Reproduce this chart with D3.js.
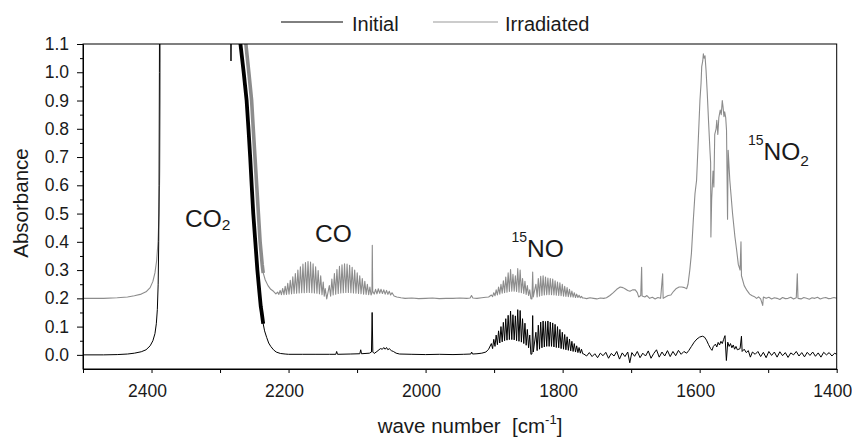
<!DOCTYPE html>
<html>
<head>
<meta charset="utf-8">
<script src="https://cdn.jsdelivr.net/npm/d3@7"></script>
<style>
  body { margin: 0; background: #fff; }
  svg text { font-family: "Liberation Sans", Arial, sans-serif; fill: #1a1a1a; }
</style>
</head>
<body>
<svg id="chart"></svg>
<script>
const width = 852;
const height = 438;
const margin = { top: 44, right: 15.3, bottom: 69, left: 83 };

const seriesNames = ['Initial', 'Irradiated'];
const xMajorTicks = [2400, 2200, 2000, 1800, 1600, 1400];
const xMinorTicks = [2500, 2300, 2100, 1900, 1700, 1500];
const yMajorTicks = [0.0, 0.1, 0.2, 0.3, 0.4, 0.5, 0.6, 0.7, 0.8, 0.9, 1.0, 1.1];
const yMinorTicks = [0.05, 0.15, 0.25, 0.35, 0.45, 0.55, 0.65, 0.75, 0.85, 0.95, 1.05];

// ---- Initial (black) : [wave number, absorbance]
const blackCO2 = [
  [2500, 0.0], [2470, 0.0], [2450, 0.001], [2435, 0.003], [2425, 0.006], [2415, 0.011],
  [2408, 0.018], [2402, 0.032], [2398, 0.05], [2395, 0.075], [2393, 0.11], [2391.5, 0.16],
  [2390.3, 0.25], [2389.5, 0.4], [2389, 0.6], [2388.5, 1.0], [2388.2, 1.3], [2386, 1.6],
  [2287, 1.6], [2284.6, 1.2], [2284, 1.04], [2283.4, 1.2], [2281, 1.6], [2274, 1.6]
];
// saturated, noisy edge of the CO2 band (drawn as a thick band)
const blackCO2Edge = [
  [2271.5, 1.15], [2270.2, 1.1], [2265.5, 1.0], [2261.2, 0.9], [2258.5, 0.8], [2256, 0.7],
  [2253.8, 0.6], [2251.5, 0.5], [2248.5, 0.4], [2245.5, 0.3], [2242.5, 0.22], [2240.5, 0.17],
  [2239.2, 0.15], [2237, 0.11]
];
const blackCO2Foot = [
  [2235, 0.085], [2232, 0.062], [2229, 0.042], [2226, 0.03], [2222, 0.018],
  [2218, 0.01], [2212, 0.005], [2205, 0.003], [2200, 0.002]
];
const blackMid = [
  [2180, 0.002], [2160, 0.002], [2140, 0.002], [2131, 0.002], [2129.8, 0.012], [2128.5, 0.002],
  [2110, 0.003], [2096, 0.004], [2094.7, 0.018], [2093.5, 0.004], [2082, 0.006], [2079, 0.01],
  [2078, 0.15], [2077, 0.01], [2075, 0.005], [2071, 0.012], [2068, 0.018], [2066, 0.022],
  [2063, 0.02], [2061, 0.026], [2059, 0.02], [2057, 0.026], [2055, 0.018], [2053, 0.022],
  [2050, 0.015], [2047, 0.012], [2043, 0.006], [2038, 0.003], [2020, 0.002], [2000, 0.001],
  [1980, 0.002], [1960, 0.001], [1945, 0.002], [1934, 0.003], [1932.8, 0.01], [1931.5, 0.003],
  [1925, 0.004], [1918, 0.006], [1912, 0.01], [1908, 0.02]
];
const blackNoSpike = [[1844.8, 0.003], [1843.7, 0.139], [1842.8, 0.01]];
const blackTail = [
  [1769, 0.003], [1765, -0.004], [1761, 0.008], [1757, -0.006], [1753, 0.004], [1749, -0.01],
  [1745, 0.006], [1741, -0.003], [1737, 0.009], [1733, -0.012], [1729, 0.005], [1725, -0.004],
  [1721, 0.012], [1717, -0.015], [1713, 0.007], [1709, -0.006], [1705, 0.01], [1702, -0.028],
  [1699, 0.008], [1695, -0.005], [1691, 0.012], [1687, -0.01], [1683, 0.006], [1679, -0.004],
  [1675, 0.014], [1671, -0.012], [1667, 0.005], [1663, 0.018], [1659, -0.008], [1655, 0.01],
  [1651, -0.004], [1647, 0.015], [1643, -0.006], [1639, 0.012], [1635, -0.003], [1631, 0.016],
  [1627, 0.002], [1623, 0.012], [1619, 0.006], [1616, 0.015], [1612, 0.03], [1608, 0.045],
  [1604, 0.056], [1600, 0.063], [1596, 0.066], [1593, 0.063], [1590, 0.052], [1587, 0.036],
  [1584, 0.022], [1582, 0.016], [1580, 0.03], [1577, 0.038], [1575, 0.028], [1573, 0.044],
  [1571, 0.035], [1569, 0.048], [1567, 0.04], [1565, 0.055], [1563, 0.068], [1561, -0.02],
  [1559, 0.045], [1557, 0.03], [1555, 0.04], [1553, 0.025], [1551, 0.035], [1549, 0.02],
  [1547, 0.03], [1545, 0.018], [1541, 0.022], [1539, 0.066], [1538, 0.012], [1535, 0.02],
  [1532, 0.008], [1529, 0.015], [1526, -0.008], [1523, 0.01], [1519, 0.002], [1515, 0.012],
  [1511, -0.006], [1507, 0.009], [1503, -0.01], [1499, 0.012], [1495, -0.002], [1491, 0.01],
  [1487, -0.008], [1483, 0.011], [1479, -0.003], [1475, 0.008], [1471, -0.009], [1467, 0.007],
  [1463, 0.0], [1459, 0.012], [1455, -0.004], [1451, 0.008], [1447, -0.007], [1443, 0.009],
  [1439, -0.002], [1435, 0.01], [1431, -0.005], [1427, 0.007], [1423, -0.008], [1419, 0.009],
  [1415, 0.0], [1411, 0.008], [1407, -0.004], [1403, 0.006], [1400, 0.002]
];

// ---- NO rotational lines (shared positions)
const no1PeakWn = [1904, 1900.5, 1897, 1893.5, 1890, 1886.5, 1883, 1879.5, 1876, 1872.5, 1869, 1865.5, 1862, 1858.5, 1855, 1851.5, 1848];
const no1ValleyWn = [1902.2, 1898.7, 1895.2, 1891.7, 1888.2, 1884.7, 1881.2, 1877.7, 1874.2, 1870.7, 1867.2, 1863.7, 1860.2, 1856.7, 1853.2, 1849.7, 1846.3];
const no2PeakWn = [1839, 1835.5, 1832, 1828.5, 1825, 1821.5, 1818, 1814.5, 1811, 1807.5, 1804, 1800.5, 1797, 1793.5, 1790, 1786.5, 1783, 1779.5, 1776, 1772.5];
const no2ValleyWn = [1837.2, 1833.7, 1830.2, 1826.7, 1823.2, 1819.7, 1816.2, 1812.7, 1809.2, 1805.7, 1802.2, 1798.7, 1795.2, 1791.7, 1788.2, 1784.7, 1781.2, 1777.7, 1774.2, 1770.7];

const blackNo1Peak = [0.04, 0.055, 0.07, 0.085, 0.1, 0.115, 0.128, 0.14, 0.155, 0.142, 0.138, 0.16, 0.157, 0.128, 0.112, 0.09, 0.07];
const blackNo1Valley = [0.022, 0.03, 0.036, 0.042, 0.046, 0.05, 0.052, 0.054, 0.054, 0.053, 0.05, 0.048, 0.045, 0.04, 0.034, 0.025, 0.002];
const blackNo2Peak = [0.08, 0.105, 0.116, 0.12, 0.118, 0.12, 0.116, 0.113, 0.108, 0.1, 0.09, 0.08, 0.072, 0.064, 0.056, 0.048, 0.04, 0.032, 0.026, 0.02];
const blackNo2Valley = [0.015, 0.02, 0.025, 0.028, 0.03, 0.03, 0.03, 0.028, 0.026, 0.025, 0.022, 0.02, 0.018, 0.016, 0.014, 0.012, 0.01, 0.008, 0.006, 0.004];

const grayNo1Peak = [0.212, 0.22, 0.23, 0.24, 0.25, 0.262, 0.275, 0.29, 0.302, 0.285, 0.28, 0.305, 0.3, 0.27, 0.26, 0.245, 0.23];
const grayNo1Valley = [0.206, 0.209, 0.212, 0.215, 0.218, 0.22, 0.222, 0.224, 0.225, 0.225, 0.224, 0.222, 0.22, 0.217, 0.214, 0.21, 0.199];
const grayNo2Peak = [0.25, 0.27, 0.278, 0.28, 0.275, 0.272, 0.27, 0.268, 0.262, 0.258, 0.255, 0.25, 0.243, 0.238, 0.232, 0.226, 0.22, 0.215, 0.211, 0.207];
const grayNo2Valley = [0.205, 0.208, 0.21, 0.212, 0.213, 0.213, 0.213, 0.212, 0.211, 0.21, 0.209, 0.208, 0.207, 0.206, 0.205, 0.204, 0.203, 0.203, 0.202, 0.201];

// ---- CO rotational lines (irradiated only)
const co1PeakWn = [2216, 2212.3, 2208.6, 2204.9, 2201.2, 2197.5, 2193.8, 2190.1, 2186.4, 2182.7, 2179, 2175.3, 2171.6, 2167.9, 2164.2, 2160.5, 2156.8, 2153.1, 2149.4, 2146.5];
const co1Peak = [0.222, 0.228, 0.235, 0.243, 0.253, 0.264, 0.276, 0.288, 0.3, 0.312, 0.321, 0.327, 0.33, 0.328, 0.322, 0.312, 0.298, 0.28, 0.258, 0.235];
const co1ValleyWn = [2214.1, 2210.4, 2206.7, 2203, 2199.3, 2195.6, 2191.9, 2188.2, 2184.5, 2180.8, 2177.1, 2173.4, 2169.7, 2166, 2162.3, 2158.6, 2154.9, 2151.2, 2147.9, 2144.3];
const co1Valley = [0.214, 0.213, 0.213, 0.214, 0.215, 0.216, 0.217, 0.218, 0.219, 0.22, 0.22, 0.221, 0.221, 0.22, 0.219, 0.218, 0.216, 0.213, 0.208, 0.198];
const co2PeakWn = [2140.5, 2136.8, 2133.1, 2129.4, 2125.7, 2122, 2118.3, 2114.6, 2110.9, 2107.2, 2103.5, 2099.8, 2096.1, 2092.4, 2088.7, 2085, 2081.3];
const co2Peak = [0.245, 0.268, 0.288, 0.302, 0.313, 0.319, 0.322, 0.321, 0.317, 0.31, 0.3, 0.29, 0.28, 0.27, 0.26, 0.25, 0.24];
const co2ValleyWn = [2138.6, 2134.9, 2131.2, 2127.5, 2123.8, 2120.1, 2116.4, 2112.7, 2109, 2105.3, 2101.6, 2097.9, 2094.2, 2090.5, 2086.8, 2083.1, 2079.6];
const co2Valley = [0.208, 0.212, 0.215, 0.217, 0.219, 0.22, 0.221, 0.221, 0.22, 0.219, 0.218, 0.217, 0.216, 0.215, 0.214, 0.213, 0.212];

// ---- Irradiated (gray) : [wave number, absorbance]
const grayCO2 = [
  [2500, 0.2], [2470, 0.2], [2450, 0.202], [2435, 0.205], [2425, 0.209], [2415, 0.215],
  [2408, 0.223], [2402, 0.238], [2398, 0.26], [2395, 0.29], [2392.5, 0.334], [2390.5, 0.4],
  [2389, 0.5], [2388, 0.65], [2387.2, 0.9], [2386.6, 1.3], [2385, 1.6], [2266, 1.6]
];
const grayCO2Edge = [
  [2263.5, 1.15], [2262.3, 1.1], [2258, 1.0], [2253.9, 0.9], [2251.5, 0.8], [2249, 0.7],
  [2246.5, 0.6], [2244, 0.5], [2241.5, 0.4], [2238.5, 0.32], [2237, 0.29]
];
const grayCO2Foot = [
  [2234, 0.265], [2230, 0.245], [2226, 0.232], [2222, 0.225], [2218.5, 0.216]
];
const grayMid = [
  [2078.3, 0.22], [2077.8, 0.388], [2077.2, 0.225], [2075, 0.215], [2073, 0.232], [2071, 0.216],
  [2069, 0.234], [2067, 0.218], [2065, 0.232], [2063, 0.217], [2061, 0.23], [2059, 0.215],
  [2057, 0.228], [2055, 0.214], [2053, 0.225], [2051, 0.212], [2049, 0.22], [2046, 0.208],
  [2042, 0.205], [2036, 0.202], [2030, 0.2], [2020, 0.201], [2010, 0.199], [2000, 0.2],
  [1990, 0.201], [1980, 0.199], [1970, 0.2], [1960, 0.2], [1950, 0.201], [1940, 0.2],
  [1935, 0.201], [1933, 0.21], [1931, 0.201], [1925, 0.2], [1918, 0.202], [1912, 0.204],
  [1908, 0.205]
];
const grayNoSpike = [[1844.8, 0.198], [1843.7, 0.293], [1842.8, 0.205]];
const grayTail = [
  [1769, 0.201], [1765, 0.199], [1760, 0.202], [1755, 0.2], [1750, 0.198], [1745, 0.201],
  [1740, 0.2], [1736, 0.202], [1731, 0.21], [1726, 0.22], [1721, 0.232], [1716, 0.24],
  [1712, 0.238], [1709, 0.234], [1705, 0.228], [1701.7, 0.225], [1698, 0.23], [1694, 0.23],
  [1691, 0.22], [1689, 0.205], [1686, 0.21], [1684.7, 0.31], [1684, 0.208], [1680, 0.205],
  [1677, 0.21], [1673, 0.2], [1669, 0.204], [1665, 0.198], [1661, 0.203], [1657, 0.2],
  [1654, 0.287], [1653.3, 0.2], [1650, 0.205], [1646, 0.21], [1642, 0.212], [1638, 0.225],
  [1634, 0.235], [1630, 0.24], [1626, 0.24], [1622, 0.238], [1619, 0.234], [1617, 0.25],
  [1614.4, 0.3], [1612, 0.36], [1609.3, 0.476], [1606.8, 0.571], [1604.5, 0.618], [1602, 0.76],
  [1599.6, 0.9], [1598, 0.96], [1597, 1.02], [1595.5, 1.04], [1594.6, 1.065], [1593.5, 1.05],
  [1592.2, 1.058], [1590.7, 1.008], [1588.9, 0.925], [1586.9, 0.82], [1585, 0.724], [1584, 0.68],
  [1583.6, 0.417], [1582.5, 0.55], [1580.5, 0.65], [1579.3, 0.594], [1578, 0.78], [1576, 0.8],
  [1575, 0.83], [1573.5, 0.78], [1572, 0.84], [1570, 0.866], [1568.5, 0.85], [1567, 0.9],
  [1566, 0.88], [1564.5, 0.843], [1563.5, 0.86], [1562, 0.84], [1560.8, 0.795], [1559.3, 0.48],
  [1558.4, 0.724], [1556, 0.618], [1552, 0.5], [1548.5, 0.417], [1546, 0.37], [1543.6, 0.32],
  [1541, 0.3], [1539.7, 0.4], [1539, 0.28], [1535, 0.245], [1531, 0.228], [1527, 0.215],
  [1524, 0.21], [1520, 0.206], [1517, 0.2], [1514, 0.205], [1511, 0.198], [1508, 0.175],
  [1507, 0.205], [1503, 0.2], [1499, 0.204], [1495, 0.198], [1491, 0.202], [1487, 0.2],
  [1483, 0.196], [1479, 0.203], [1475, 0.199], [1471, 0.2], [1467, 0.204], [1463, 0.198],
  [1459, 0.202], [1457.5, 0.287], [1456.5, 0.2], [1452, 0.198], [1448, 0.203], [1444, 0.2],
  [1440, 0.197], [1436, 0.202], [1432, 0.2], [1428, 0.204], [1424, 0.198], [1420, 0.201],
  [1416, 0.203], [1412, 0.199], [1408, 0.2], [1404, 0.203], [1400, 0.2]
];

function interleave(peakWn, peakA, valleyWn, valleyA) {
  const out = [];
  peakWn.forEach((w, i) => {
    out.push([w, peakA[i]]);
    out.push([valleyWn[i], valleyA[i]]);
  });
  return out;
}

const initialData = [].concat(
  blackCO2, blackCO2Edge, blackCO2Foot, blackMid,
  interleave(no1PeakWn, blackNo1Peak, no1ValleyWn, blackNo1Valley),
  blackNoSpike,
  interleave(no2PeakWn, blackNo2Peak, no2ValleyWn, blackNo2Valley),
  blackTail
);
const irradiatedData = [].concat(
  grayCO2, grayCO2Edge, grayCO2Foot,
  interleave(co1PeakWn, co1Peak, co1ValleyWn, co1Valley),
  interleave(co2PeakWn, co2Peak, co2ValleyWn, co2Valley),
  grayMid,
  interleave(no1PeakWn, grayNo1Peak, no1ValleyWn, grayNo1Valley),
  grayNoSpike,
  interleave(no2PeakWn, grayNo2Peak, no2ValleyWn, grayNo2Valley),
  grayTail
);

const colors = { Initial: '#000000', Irradiated: '#8c8c8c' };

const svg = d3.select('#chart').attr('width', width).attr('height', height);

const x = d3.scaleLinear().domain([2500, 1400]).range([margin.left, width - margin.right]);
const y = d3.scaleLinear().domain([-0.05, 1.1]).range([height - margin.bottom, margin.top]);

svg.append('clipPath').attr('id', 'plot-clip')
  .append('rect')
  .attr('x', margin.left).attr('y', margin.top)
  .attr('width', width - margin.left - margin.right)
  .attr('height', height - margin.top - margin.bottom);

const line = d3.line().x((d) => x(d[0])).y((d) => y(d[1]));

const traces = svg.append('g').attr('clip-path', 'url(#plot-clip)')
  .attr('fill', 'none').attr('stroke-linejoin', 'round');
traces.append('path').datum(irradiatedData).attr('d', line)
  .attr('stroke', colors.Irradiated).attr('stroke-width', 1.1);
// noisy saturated edge looks like a thick band
traces.append('path').datum(grayCO2Edge).attr('d', line)
  .attr('stroke', colors.Irradiated).attr('stroke-width', 3.6);
traces.append('path').datum(initialData).attr('d', line)
  .attr('stroke', colors.Initial).attr('stroke-width', 1);
traces.append('path').datum(blackCO2Edge).attr('d', line)
  .attr('stroke', colors.Initial).attr('stroke-width', 3.8);

// frame
svg.append('rect')
  .attr('x', margin.left).attr('y', margin.top)
  .attr('width', width - margin.left - margin.right)
  .attr('height', height - margin.top - margin.bottom)
  .attr('fill', 'none').attr('stroke', '#000').attr('stroke-width', 1);

// x axis
const xAxis = svg.append('g')
  .attr('transform', `translate(0,${height - margin.bottom})`)
  .call(d3.axisBottom(x).tickValues(xMajorTicks.concat(xMinorTicks)).tickSize(4).tickSizeOuter(0).tickPadding(12)
    .tickFormat((d) => (xMajorTicks.includes(d) ? d : '')));
xAxis.selectAll('text').attr('font-size', 17.5).attr('dx', -4.5).attr('fill', '#1a1a1a');

// y axis
const yAxis = svg.append('g')
  .attr('transform', `translate(${margin.left},0)`)
  .call(d3.axisLeft(y).tickValues(yMajorTicks).tickSize(6).tickSizeOuter(0).tickPadding(8).tickFormat(d3.format('.1f')));
yAxis.selectAll('text').attr('font-size', 17.5).attr('fill', '#1a1a1a');
svg.append('g')
  .attr('transform', `translate(${margin.left},0)`)
  .call(d3.axisLeft(y).tickValues(yMinorTicks).tickSize(3).tickSizeOuter(0).tickFormat(''));
svg.selectAll('.domain').attr('stroke', '#000');

// axis titles
svg.append('text')
  .attr('transform', `translate(28,203) rotate(-90)`)
  .attr('text-anchor', 'middle')
  .attr('font-size', 20.5)
  .text('Absorbance');

const xTitle = svg.append('text')
  .attr('x', 470).attr('y', 433)
  .attr('text-anchor', 'middle')
  .attr('font-size', 20.5)
  .style('white-space', 'pre');
xTitle.append('tspan').text('wave number  [cm');
xTitle.append('tspan').attr('font-size', 13).attr('dy', -9).text('-1');
xTitle.append('tspan').attr('dy', 9).text(']');

// legend
const legendItems = [
  { name: seriesNames[0], x1: 281, x2: 343, tx: 352 },
  { name: seriesNames[1], x1: 433, x2: 498, tx: 505 }
];
legendItems.forEach((it) => {
  svg.append('line')
    .attr('x1', it.x1).attr('x2', it.x2).attr('y1', 22).attr('y2', 22)
    .attr('stroke', it.name === 'Initial' ? colors.Initial : '#999').attr('stroke-width', 1);
  svg.append('text').attr('x', it.tx).attr('y', 30.5).attr('font-size', 20).text(it.name);
});

// species labels
const co2Label = svg.append('text').attr('x', 185).attr('y', 226.5).attr('font-size', 24.5);
co2Label.append('tspan').text('CO');
co2Label.append('tspan').attr('font-size', 15.5).attr('dy', 3.5).text('2');

svg.append('text').attr('x', 315).attr('y', 241.5).attr('font-size', 24.5).text('CO');

const noLabel = svg.append('text').attr('x', 511.5).attr('y', 256.5).attr('font-size', 24.5);
noLabel.append('tspan').attr('font-size', 14).attr('dy', -15).text('15');
noLabel.append('tspan').attr('dy', 15).text('NO');

const no2Label = svg.append('text').attr('x', 748).attr('y', 160).attr('font-size', 24.5);
no2Label.append('tspan').attr('font-size', 14).attr('dy', -15).text('15');
no2Label.append('tspan').attr('dy', 15).text('NO');
no2Label.append('tspan').attr('font-size', 15.5).attr('dy', 6).text('2');
</script>
</body>
</html>
